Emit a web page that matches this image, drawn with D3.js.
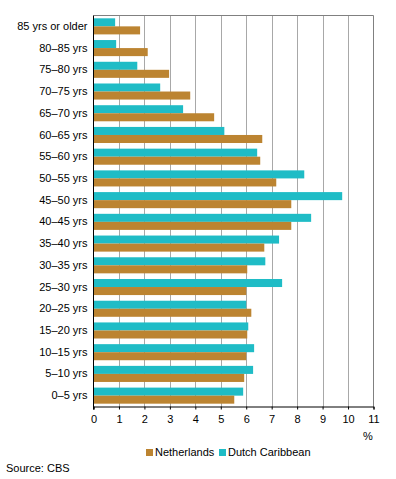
<!DOCTYPE html>
<html><head><meta charset="utf-8">
<script src="https://cdn.jsdelivr.net/npm/d3@7"></script>
<style>body{margin:0;background:#fff}svg{display:block}text{font-family:"Liberation Sans",Arial,sans-serif;font-size:11px;fill:#000}</style>
</head><body>
<script>
const categories = ["85 yrs or older","80\u201385 yrs","75\u201380 yrs","70\u201375 yrs","65\u201370 yrs","60\u201365 yrs","55\u201360 yrs","50\u201355 yrs","45\u201350 yrs","40\u201345 yrs","35\u201340 yrs","30\u201335 yrs","25\u201330 yrs","20\u201325 yrs","15\u201320 yrs","10\u201315 yrs","5\u201310 yrs","0\u20135 yrs"];
const caribbean = [0.85,0.89,1.72,2.62,3.52,5.14,6.43,8.28,9.77,8.55,7.29,6.75,7.41,6.0,6.08,6.31,6.27,5.88];
const netherlands = [1.83,2.13,2.97,3.80,4.74,6.63,6.55,7.18,7.77,7.77,6.71,6.04,6.0,6.2,6.04,6.0,5.92,5.53];
const xTicks = [0,1,2,3,4,5,6,7,8,9,10,11];
const seriesNames = ["Netherlands","Dutch Caribbean"];
const colors = {nl:"#bc8431", dc:"#1fbcc6"};

const W=396,H=479;
const svg=d3.select("body").append("svg").attr("width",W).attr("height",H);
const L=93.5,R=373.5,T=15.5,B=406.5;
const x=d3.scaleLinear().domain([0,11]).range([L,R]);
const y=d3.scaleBand().domain(categories).range([T,B]).paddingInner(0.26).paddingOuter(0.13);
const sub=d3.scaleBand().domain(["dc","nl"]).range([0,y.bandwidth()]);

// grid
svg.append("g").selectAll("line").data(xTicks.slice(1,-1)).join("line")
 .attr("x1",d=>Math.round(x(d))+0.5).attr("x2",d=>Math.round(x(d))+0.5).attr("y1",T).attr("y2",B)
 .attr("stroke","#a8a8a8").attr("stroke-width",1);
// top & right border
svg.append("path").attr("d",`M${L},${T}H${R}V${B}`).attr("fill","none").attr("stroke","#808080").attr("stroke-width",1);

// bars
const rows=categories.map((c,i)=>({c,dc:caribbean[i],nl:netherlands[i]}));
const g=svg.append("g");
["dc","nl"].forEach(k=>{
  g.selectAll("rect."+k).data(rows).join("rect").attr("class",k)
   .attr("x",x(0)).attr("y",d=>y(d.c)+sub(k)).attr("height",sub.bandwidth())
   .attr("width",d=>x(d[k])-x(0)).attr("fill",colors[k]);
});

// axes
const xa=svg.append("g").attr("transform",`translate(0,${B})`)
 .call(d3.axisBottom(x).tickValues(xTicks).tickSize(3).tickPadding(6).tickFormat(d3.format("d")));
xa.select(".domain").attr("stroke","#000");
xa.selectAll(".tick line").attr("stroke","#000");
xa.selectAll("text").style("font-size","11px").attr("fill","#000");

const ya=svg.append("g").attr("transform",`translate(${L},0)`)
 .call(d3.axisLeft(y).tickSize(0).tickPadding(6));
ya.select(".domain").remove();
ya.selectAll("text").style("font-size","11px").attr("fill","#000");
svg.append("line").attr("x1",L).attr("x2",L).attr("y1",T).attr("y2",B+3).attr("stroke","#000");

svg.append("text").attr("x",368).attr("y",440).attr("text-anchor","middle").text("%");

// legend
const leg=svg.append("g");
const lx=[146,219];
seriesNames.forEach((n,i)=>{
  leg.append("rect").attr("x",lx[i]).attr("y",449).attr("width",7).attr("height",7).attr("fill",i===0?colors.nl:colors.dc);
  leg.append("text").attr("x",lx[i]+9).attr("y",456).text(n);
});
svg.append("text").attr("x",6).attr("y",472).text("Source: CBS");
</script>
</body></html>
